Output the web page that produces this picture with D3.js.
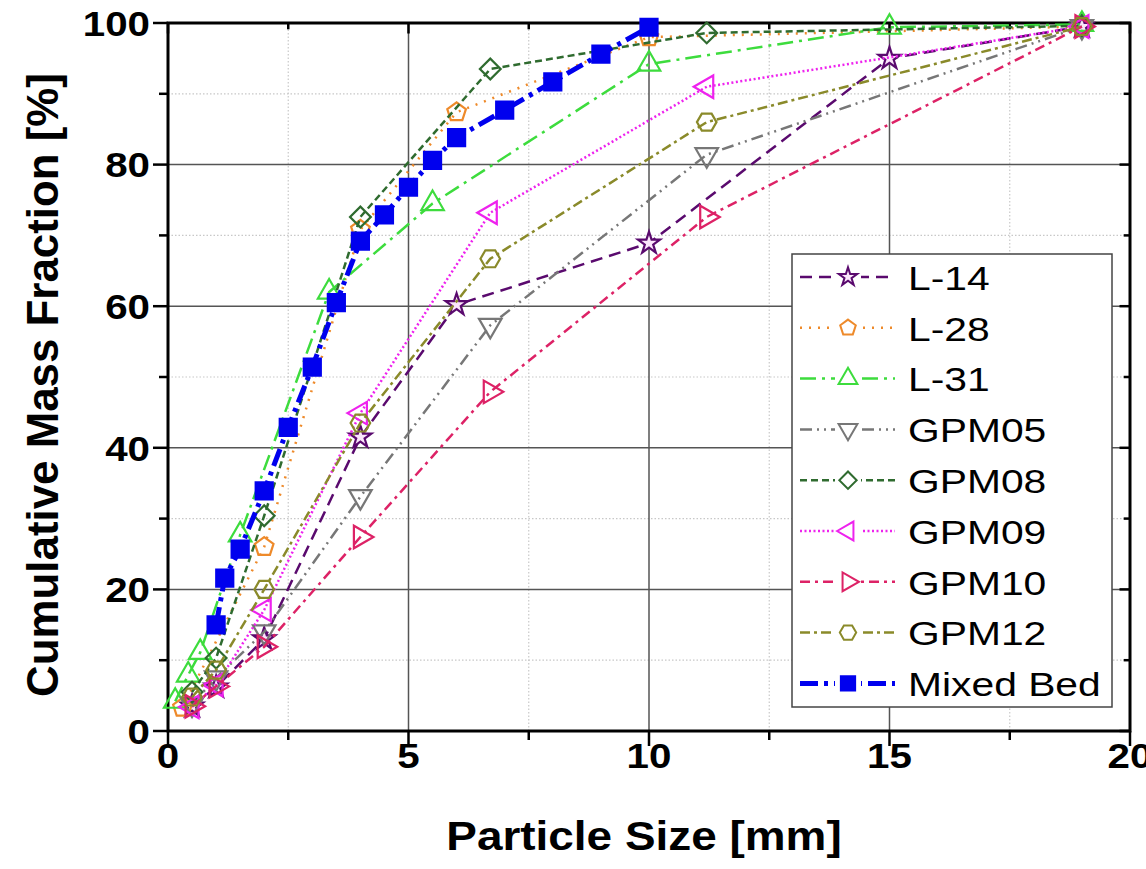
<!DOCTYPE html>
<html>
<head>
<meta charset="utf-8">
<script src="https://cdn.jsdelivr.net/npm/d3@7"></script>
<style>
  body { margin: 0; background: #fff; }
  text { font-family: "Liberation Sans", Arial, sans-serif; }
  .tick-label { font-size: 36px; font-weight: bold; }
  .axis-title { font-size: 41px; font-weight: bold; }
  .legend-text { font-size: 34px; }
</style>
</head>
<body>
<div id="chart"></div>
<script>
// series data: x = particle size [mm], y = cumulative mass fraction [%]
const seriesNames = ["L-14", "L-28", "L-31", "GPM05", "GPM08", "GPM09", "GPM10", "GPM12", "Mixed Bed"];

const l14X = [0.5, 1.0, 2.0, 4.0, 6.0, 10.0, 15.0, 19.0];
const l14Y = [3.5, 6.2, 13.0, 41.5, 60.2, 68.9, 95.0, 99.5];

const l28X = [0.3, 2.0, 4.0, 6.0, 10.0, 19.0];
const l28Y = [3.3, 26.0, 70.8, 87.4, 98.0, 99.5];

const l31X = [0.15, 0.42, 0.67, 1.5, 3.35, 5.5, 10.0, 15.0, 19.0];
const l31Y = [4.2, 7.9, 11.1, 27.7, 62.0, 74.5, 94.2, 99.4, 99.8];

const gpm05X = [0.5, 1.0, 2.0, 4.0, 6.7, 11.2, 19.0];
const gpm05Y = [3.8, 7.5, 14.0, 33.1, 57.3, 81.4, 99.5];

const gpm08X = [0.5, 1.0, 2.0, 4.0, 6.7, 11.2, 19.0];
const gpm08Y = [5.5, 10.3, 30.4, 72.6, 93.5, 98.6, 99.6];

const gpm09X = [0.5, 1.0, 2.0, 4.0, 6.7, 11.2, 19.0];
const gpm09Y = [3.4, 6.5, 17.1, 44.9, 73.2, 91.0, 99.5];

const gpm10X = [0.5, 1.0, 2.0, 4.0, 6.7, 11.2, 19.0];
const gpm10Y = [3.5, 6.3, 11.9, 27.4, 47.9, 72.6, 99.5];

const gpm12X = [0.5, 1.0, 2.0, 4.0, 6.7, 11.2, 19.0];
const gpm12Y = [4.8, 8.6, 20.0, 43.5, 66.7, 86.0, 99.5];

const mixedX = [1.0, 1.18, 1.5, 2.0, 2.5, 3.0, 3.5, 4.0, 4.5, 5.0, 5.5, 6.0, 7.0, 8.0, 9.0, 10.0];
const mixedY = [15.0, 21.6, 25.7, 33.9, 42.9, 51.4, 60.5, 69.2, 72.9, 76.8, 80.6, 83.8, 87.7, 91.7, 95.6, 99.4];

const xTicks = [0, 5, 10, 15, 20];
const yTicks = [0, 20, 40, 60, 80, 100];

// custom marker shapes
function polygonSymbol(n, rot) {
  return {
    draw(ctx, size) {
      const r = Math.sqrt(size / Math.PI) * 1.12;
      for (let i = 0; i < n; i++) {
        const a = rot + i * 2 * Math.PI / n;
        const px = r * Math.cos(a), py = r * Math.sin(a);
        if (i === 0) ctx.moveTo(px, py); else ctx.lineTo(px, py);
      }
      ctx.closePath();
    }
  };
}
const symPentagon = polygonSymbol(5, -Math.PI / 2);
const symHexagon = polygonSymbol(6, 0);

const styles = [
  { color: "#5a0a6e", dash: "12,7", width: 2.5, sym: d3.symbolStar, size: 150, rotate: 0, fill: "#fbe6fb" },
  { color: "#ee8a2a", dash: "2,7", width: 2.5, sym: symPentagon, size: 240, rotate: 0, fill: "none" },
  { color: "#3ddc3d", dash: "16,6,3,6", width: 2.5, sym: d3.symbolTriangle, size: 220, rotate: 0, fill: "none" },
  { color: "#777777", dash: "12,5,2,5,2,5", width: 2.5, sym: d3.symbolTriangle, size: 220, rotate: 180, fill: "none" },
  { color: "#2f6b2f", dash: "7,4", width: 2.5, sym: d3.symbolSquare, size: 215, rotate: 45, fill: "none" },
  { color: "#ee22ee", dash: "2,2.5", width: 2.5, sym: d3.symbolTriangle, size: 220, rotate: -90, fill: "none" },
  { color: "#dd2266", dash: "10,5,3,5", width: 2.5, sym: d3.symbolTriangle, size: 220, rotate: 90, fill: "none" },
  { color: "#8a8a2a", dash: "10,4,3,4", width: 2.5, sym: symHexagon, size: 240, rotate: 0, fill: "none" },
  { color: "#0000ee", dash: "18,6,4,6", width: 5, sym: d3.symbolSquare, size: 290, rotate: 0, fill: "#0000ee" }
];

const xs = [l14X, l28X, l31X, gpm05X, gpm08X, gpm09X, gpm10X, gpm12X, mixedX];
const ys = [l14Y, l28Y, l31Y, gpm05Y, gpm08Y, gpm09Y, gpm10Y, gpm12Y, mixedY];
const series = seriesNames.map((name, i) => ({
  name: name,
  style: styles[i],
  points: xs[i].map((v, j) => ({ x: v, y: ys[i][j] }))
}));

const width = 1146, height = 869;
const svg = d3.select("#chart").append("svg")
  .attr("width", width)
  .attr("height", height);

const x = d3.scaleLinear().domain([0, 20]).range([168, 1130]);
const y = d3.scaleLinear().domain([0, 100]).range([731, 23]);

// the lettering in the picture is a bit wide, so texts get a horizontal stretch
const stretch = 1.12;

// grid
const xMinor = d3.range(2.5, 20, 5);
const yMinor = d3.range(10, 100, 20);

svg.append("g").selectAll("line").data(xMinor).join("line")
  .attr("x1", d => x(d)).attr("x2", d => x(d))
  .attr("y1", y(0)).attr("y2", y(100))
  .attr("stroke", "#c8c8c8").attr("stroke-width", 1.2).attr("stroke-dasharray", "1.5,2");
svg.append("g").selectAll("line").data(yMinor).join("line")
  .attr("x1", x(0)).attr("x2", x(20))
  .attr("y1", d => y(d)).attr("y2", d => y(d))
  .attr("stroke", "#c8c8c8").attr("stroke-width", 1.2).attr("stroke-dasharray", "1.5,2");
svg.append("g").selectAll("line").data(xTicks.slice(1, -1)).join("line")
  .attr("x1", d => x(d)).attr("x2", d => x(d))
  .attr("y1", y(0)).attr("y2", y(100))
  .attr("stroke", "#555").attr("stroke-width", 1.5);
svg.append("g").selectAll("line").data(yTicks.slice(1, -1)).join("line")
  .attr("x1", x(0)).attr("x2", x(20))
  .attr("y1", d => y(d)).attr("y2", d => y(d))
  .attr("stroke", "#555").attr("stroke-width", 1.5);

// axis ticks
const allX = d3.range(0, 20.1, 2.5);
const allY = d3.range(0, 100.1, 10);
const tickLen = d => (d % 5 === 0 ? 15 : 9);
const tickLenY = d => (d % 20 === 0 ? 15 : 9);

const axisG = svg.append("g").attr("stroke", "#000").attr("stroke-width", 2.5);
axisG.selectAll(".tb").data(allX).join("line")
  .attr("x1", d => x(d)).attr("x2", d => x(d))
  .attr("y1", y(0)).attr("y2", d => y(0) + tickLen(d));
axisG.selectAll(".tt").data(allX).join("line")
  .attr("x1", d => x(d)).attr("x2", d => x(d))
  .attr("y1", y(100)).attr("y2", d => y(100) + tickLen(d) * 0.7);
axisG.selectAll(".tl").data(allY).join("line")
  .attr("y1", d => y(d)).attr("y2", d => y(d))
  .attr("x1", x(0)).attr("x2", d => x(0) - tickLenY(d));
axisG.selectAll(".tr").data(allY).join("line")
  .attr("y1", d => y(d)).attr("y2", d => y(d))
  .attr("x1", x(20)).attr("x2", d => x(20) - tickLenY(d) * 0.7);

svg.append("rect")
  .attr("x", x(0)).attr("y", y(100))
  .attr("width", x(20) - x(0)).attr("height", y(0) - y(100))
  .attr("fill", "none").attr("stroke", "#000").attr("stroke-width", 3);

svg.append("g").selectAll("text").data(xTicks).join("text")
  .attr("class", "tick-label")
  .attr("transform", d => `translate(${x(d)},${y(0) + 24}) scale(${stretch},1)`)
  .attr("text-anchor", "middle").attr("dominant-baseline", "central")
  .text(d => d);
svg.append("g").selectAll("text").data(yTicks).join("text")
  .attr("class", "tick-label")
  .attr("transform", d => `translate(${x(0) - 18},${y(d)}) scale(${stretch},1)`)
  .attr("text-anchor", "end").attr("dominant-baseline", "central")
  .text(d => d);

svg.append("text").attr("class", "axis-title")
  .attr("transform", `translate(${x(10) - 5},836) scale(${stretch},1)`)
  .attr("text-anchor", "middle").attr("dominant-baseline", "central")
  .text("Particle Size [mm]");
svg.append("text").attr("class", "axis-title")
  .attr("transform", `translate(42, ${y(50) + 8}) rotate(-90) scale(1.07,1.1)`)
  .attr("text-anchor", "middle").attr("dominant-baseline", "central")
  .text("Cumulative Mass Fraction [%]");

// series
const line = d3.line().x(d => x(d.x)).y(d => y(d.y));

series.forEach(s => {
  const g = svg.append("g");
  g.append("path")
    .datum(s.points)
    .attr("d", line)
    .attr("fill", "none")
    .attr("stroke", s.style.color)
    .attr("stroke-width", s.style.width)
    .attr("stroke-dasharray", s.style.dash);
  g.selectAll("path.mk").data(s.points).join("path")
    .attr("class", "mk")
    .attr("d", d3.symbol().type(s.style.sym).size(s.style.size))
    .attr("transform", d => `translate(${x(d.x)},${y(d.y)}) rotate(${s.style.rotate})`)
    .attr("fill", s.style.fill)
    .attr("stroke", s.style.color)
    .attr("stroke-width", 2.2);
});

// legend
const legend = svg.append("g");
legend.append("rect")
  .attr("x", 792).attr("y", 254).attr("width", 320).attr("height", 453)
  .attr("fill", "#fff").attr("stroke", "#444").attr("stroke-width", 1.5);

series.forEach((s, i) => {
  const cy = 277 + i * 50.8;
  legend.append("line")
    .attr("x1", 800).attr("x2", 895).attr("y1", cy).attr("y2", cy)
    .attr("stroke", s.style.color)
    .attr("stroke-width", s.style.width)
    .attr("stroke-dasharray", s.style.dash);
  legend.append("rect")
    .attr("x", 835).attr("y", cy - 13).attr("width", 26).attr("height", 26)
    .attr("fill", "#fff");
  legend.append("path")
    .attr("d", d3.symbol().type(s.style.sym).size(s.style.size * 0.7))
    .attr("transform", `translate(848,${cy}) rotate(${s.style.rotate})`)
    .attr("fill", s.style.fill)
    .attr("stroke", s.style.color)
    .attr("stroke-width", 2);
  legend.append("text")
    .attr("class", "legend-text")
    .attr("transform", `translate(908,${cy + 1}) scale(1.2,1)`)
    .attr("dominant-baseline", "central")
    .text(s.name);
});
</script>
</body>
</html>
